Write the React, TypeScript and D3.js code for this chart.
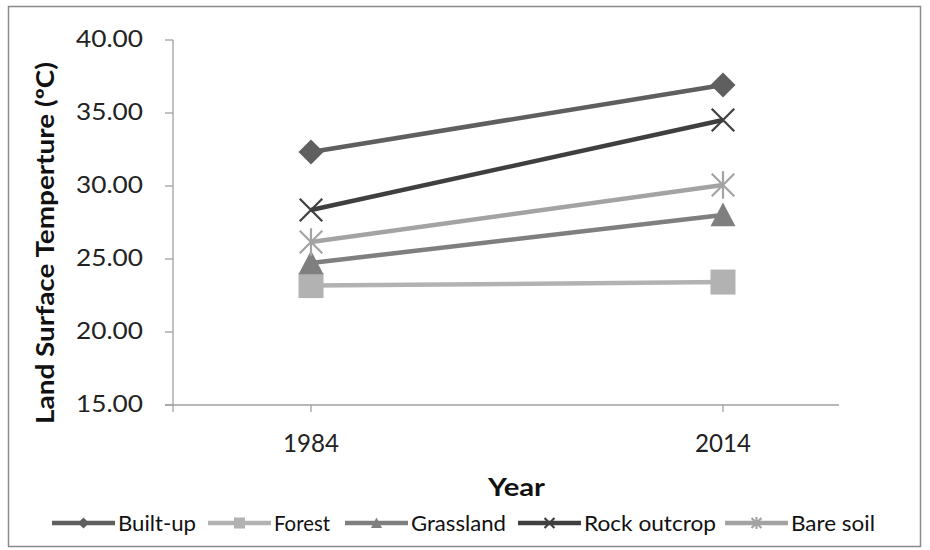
import React from "react";
import * as d3 from "d3";

const years = [1984, 2014];
const seriesNames = ["Built-up", "Forest", "Grassland", "Rock outcrop", "Bare soil"];
const builtUp = [32.33, 36.92];
const forest = [23.18, 23.42];
const grassland = [24.73, 28.01];
const rockOutcrop = [28.36, 34.52];
const bareSoil = [26.16, 30.07];
const yTicks = [15, 20, 25, 30, 35, 40];

const seriesValues = [builtUp, forest, grassland, rockOutcrop, bareSoil];
const colors = ["#5f5f5f", "#b2b2b2", "#7f7f7f", "#3f3f3f", "#a3a3a3"];
const markers = ["diamond", "square", "triangle", "x", "star"];

const FONT = "Lato, 'Open Sans', sans-serif";

function Marker({ type, x, y, color, s }: { type: string; x: number; y: number; color: string; s: number }) {
  if (type === "diamond") {
    return <path d={`M${x},${y - s} L${x + s},${y} L${x},${y + s} L${x - s},${y} Z`} fill={color} />;
  }
  if (type === "square") {
    return <rect x={x - s} y={y - s} width={2 * s} height={2 * s} fill={color} />;
  }
  if (type === "triangle") {
    return <path d={`M${x},${y - s} L${x + s},${y + s * 0.9} L${x - s},${y + s * 0.9} Z`} fill={color} />;
  }
  if (type === "x") {
    const k = s * 0.9;
    return (
      <path d={`M${x - k},${y - k} L${x + k},${y + k} M${x - k},${y + k} L${x + k},${y - k}`} stroke={color} strokeWidth={2.2} fill="none" />
    );
  }
  const k = s * 0.9;
  return (
    <path
      d={`M${x - k},${y - k} L${x + k},${y + k} M${x - k},${y + k} L${x + k},${y - k} M${x},${y - s * 1.1} L${x},${y + s * 1.1}`}
      stroke={color}
      strokeWidth={2.2}
      fill="none"
    />
  );
}

export default function App() {
  const x = d3.scaleLinear().domain([1984, 2014]).range([311, 723]);
  const y = d3.scaleLinear().domain([15, 40]).range([405, 40]);
  const axisLeft = 173;
  const axisRight = 839;
  const line = d3
    .line<number>()
    .x((_, i) => x(years[i]))
    .y((d) => y(d));

  const legendLines = [52, 208, 345, 518, 725];
  const legendWidths = [78, 56, 95, 132, 84];
  const legendY = 523;

  return (
    <svg width={930} height={550} style={{ position: "absolute", left: 0, top: 0, background: "#fff" }}>
      <rect x={8.5} y={6.5} width={912} height={540} fill="#fff" stroke="#8a8a8a" strokeWidth={1.5} />
      {/* y axis */}
      <line x1={axisLeft} x2={axisLeft} y1={y(40)} y2={y(15) + 7} stroke="#a0a0a0" strokeWidth={1.3} />
      {yTicks.map((t) => (
        <g key={t}>
          <line x1={axisLeft - 8} x2={axisLeft} y1={y(t)} y2={y(t)} stroke="#a0a0a0" strokeWidth={1.3} />
          <text
            x={143}
            y={y(t)}
            dy="0.3em"
            textAnchor="end"
            fontFamily={FONT}
            fontSize={24}
            fill="#222"
            textLength={67}
            lengthAdjust="spacingAndGlyphs"
          >
            {d3.format(".2f")(t)}
          </text>
        </g>
      ))}
      {/* x axis */}
      <line x1={axisLeft - 8} x2={axisRight} y1={y(15)} y2={y(15)} stroke="#a0a0a0" strokeWidth={1.3} />
      {years.map((yr) => (
        <g key={yr}>
          <line x1={x(yr)} x2={x(yr)} y1={y(15)} y2={y(15) + 7} stroke="#a0a0a0" strokeWidth={1.3} />
          <text
            x={x(yr)}
            y={443}
            textAnchor="middle"
            dy="0.36em"
            fontFamily={FONT}
            fontSize={25}
            fill="#222"
            textLength={56}
            lengthAdjust="spacingAndGlyphs"
          >
            {yr}
          </text>
        </g>
      ))}
      {/* series */}
      {seriesValues.map((vals, si) => (
        <g key={seriesNames[si]}>
          <path d={line(vals) || ""} stroke={colors[si]} strokeWidth={4.5} fill="none" />
          {vals.map((v, i) => (
            <Marker key={i} type={markers[si]} x={x(years[i])} y={y(v)} color={colors[si]} s={12.5} />
          ))}
        </g>
      ))}
      {/* axis titles */}
      <text
        transform={`translate(45,243) rotate(-90)`}
        textAnchor="middle"
        dy="0.35em"
        fontFamily={FONT}
        fontWeight="bold"
        fontSize={25}
        fill="#111"
        textLength={362}
        lengthAdjust="spacingAndGlyphs"
      >
        Land Surface Temperture (ºC)
      </text>
      <text
        x={516.5}
        y={487}
        textAnchor="middle"
        dy="0.36em"
        fontFamily={FONT}
        fontWeight="bold"
        fontSize={24}
        fill="#111"
        textLength={57}
        lengthAdjust="spacingAndGlyphs"
      >
        Year
      </text>
      {/* legend */}
      {seriesNames.map((name, si) => {
        const lx = legendLines[si];
        return (
          <g key={name}>
            <line x1={lx} x2={lx + 63} y1={legendY} y2={legendY} stroke={colors[si]} strokeWidth={4.5} />
            <Marker type={markers[si]} x={lx + 31.5} y={legendY} color={colors[si]} s={5.5} />
            <text
              x={lx + 66}
              y={legendY}
              dy="0.36em"
              fontFamily={FONT}
              fontSize={22}
              fill="#111"
              textLength={legendWidths[si]}
              lengthAdjust="spacingAndGlyphs"
            >
              {name}
            </text>
          </g>
        );
      })}
    </svg>
  );
}
